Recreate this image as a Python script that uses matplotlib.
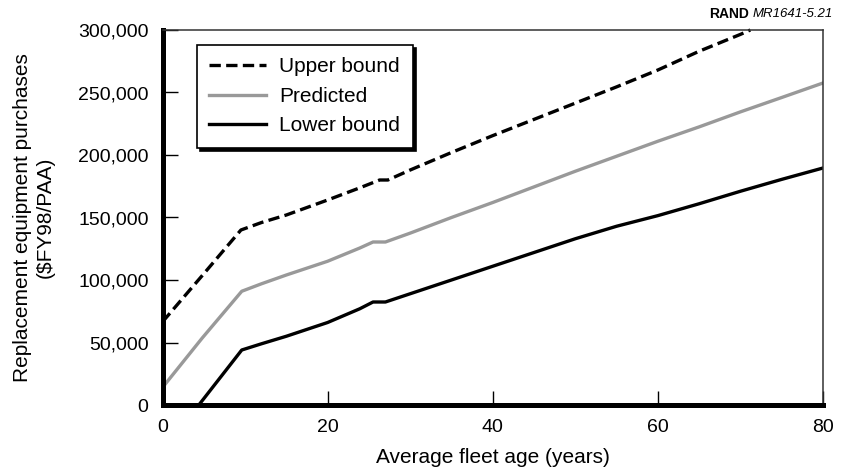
import matplotlib.pyplot as plt
from matplotlib.ticker import FuncFormatter

plt.rcParams['font.family'] = ['Liberation Sans', 'DejaVu Sans']

# -------------------------------
# DATA
# -------------------------------

upper_age = [0, 5, 9.5, 12, 15, 20, 24, 26.3, 27.3, 30, 35, 40, 45, 50, 55, 60, 65, 70, 71.2]
upper_val = [66500, 105000, 140000, 146000, 152000, 164000, 174000, 180000, 180000, 188000,
             202000, 215500, 228500, 241500, 254500, 268000, 283000, 296500, 300000]

pred_age = [0, 4.8, 9.6, 12, 15, 20, 23.9, 25.5, 27, 30, 35, 40, 45, 50, 55, 60, 65, 70, 75, 80]
pred_val = [14000, 53500, 91000, 97000, 104000, 115000, 125600, 130400, 130400, 137500,
            150000, 162000, 174500, 187000, 199000, 211000, 222500, 234500, 246000, 257600]

lower_age = [4.4, 9.6, 12, 15, 20, 23.9, 25.5, 27, 30, 35, 40, 45, 50, 55, 60, 65, 70, 75, 80]
lower_val = [0, 44000, 49000, 55000, 66000, 77000, 82400, 82400, 89000, 100000, 111000,
             122000, 133000, 143000, 151500, 161000, 171000, 180500, 189600]

x_ticks = [0, 20, 40, 60, 80]
y_ticks = [0, 50000, 100000, 150000, 200000, 250000, 300000]

# -------------------------------
# PLOT
# -------------------------------

fig = plt.figure(figsize=(8.42, 4.73), dpi=100)
ax = fig.add_axes([162.5 / 842, 68 / 473, 660.5 / 842, 375 / 473])

ax.plot(upper_age, upper_val, color='black', lw=2.4, ls=(0, (3.4, 1.6)),
        label='Upper bound', clip_on=False)
ax.plot(pred_age, pred_val, color='#999999', lw=2.4, label='Predicted')
ax.plot(lower_age, lower_val, color='black', lw=2.4, label='Lower bound')

ax.set_xlim(0, 80)
ax.set_ylim(0, 300000)
ax.set_xticks(x_ticks)
ax.set_yticks(y_ticks)
ax.yaxis.set_major_formatter(FuncFormatter(lambda v, p: f'{int(v):,}'))

ax.tick_params(direction='in', width=1, labelsize=14)
ax.tick_params(axis='y', length=11, pad=10)
ax.tick_params(axis='x', length=10, pad=10)

for side in ['left', 'bottom']:
    ax.spines[side].set_linewidth(3.6)
for side in ['top', 'right']:
    ax.spines[side].set_linewidth(1.1)
    ax.spines[side].set_color('#333333')

ax.set_xlabel('Average fleet age (years)', fontsize=15, labelpad=9)
ax.set_ylabel('Replacement equipment purchases\n(\\$FY98/PAA)', fontsize=15,
              labelpad=17, linespacing=1.25)

leg = ax.legend(loc='upper left', bbox_to_anchor=(0.0515, 0.96), borderaxespad=0,
                fontsize=15, frameon=True, fancybox=False, handlelength=2.75,
                handletextpad=0.62, borderpad=0.6, labelspacing=0.5,
                shadow={'color': 'black', 'alpha': 1, 'ox': 2.5, 'oy': -2.5})
leg.get_frame().set_edgecolor('black')
leg.get_frame().set_linewidth(1.2)
leg.get_frame().set_alpha(1)

# figure id in the top right corner: bold "RAND" then italic number
fig_id = fig.text(833 / 842, 1 - 14 / 473, 'MR1641-5.21', fontsize=9.5, style='italic',
                  ha='right', va='center')
fig.canvas.draw()
bb = fig_id.get_window_extent().transformed(fig.transFigure.inverted())
fig.text(bb.x0 - 4 / 842, 1 - 14 / 473, 'RAND', fontsize=10, fontweight='bold',
         ha='right', va='center')

plt.savefig('out.png', dpi=100)
